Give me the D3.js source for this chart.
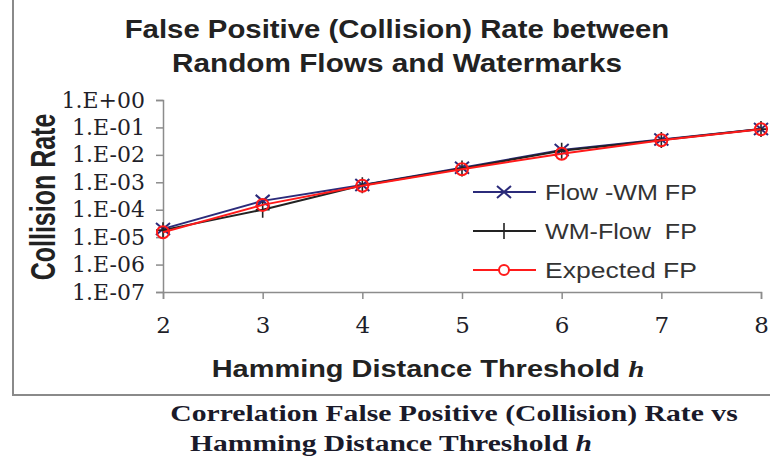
<!DOCTYPE html>
<html>
<head>
<meta charset="utf-8">
<script src="https://cdn.jsdelivr.net/npm/d3@7"></script>
<style>
  body { margin: 0; background: #fff; }
  svg { display: block; }
</style>
</head>
<body>
<div id="chart"></div>
<script>
// Data
const thresholds = [2, 3, 4, 5, 6, 7, 8];
const flowWmFp   = [2.0e-5, 2.1e-4, 8.0e-4, 3.4e-3, 1.5e-2, 3.6e-2, 8.7e-2];
const wmFlowFp   = [1.8e-5, 1.0e-4, 7.8e-4, 3.2e-3, 1.4e-2, 3.5e-2, 8.7e-2];
const expectedFp = [1.5e-5, 1.5e-4, 7.5e-4, 3.0e-3, 1.1e-2, 3.4e-2, 8.6e-2];
const yTicks = [1e0, 1e-1, 1e-2, 1e-3, 1e-4, 1e-5, 1e-6, 1e-7];
const seriesNames = ['Flow -WM FP', 'WM-Flow  FP', 'Expected FP'];

const W = 770, H = 459;
const plot = { left: 163, right: 761, top: 100, bottom: 292 };

const svg = d3.select('#chart').append('svg')
  .attr('width', W).attr('height', H);

// the source image is stretched sideways, so widen text to the measured width
// (scaled about its centre, or its left edge when start-anchored)
function stretchTo(sel, width, fromLeft) {
  const box = sel.node().getBBox();
  const k = width / box.width;
  const ox = fromLeft ? box.x : box.x + box.width / 2;
  sel.attr('transform', `translate(${ox},0) scale(${k},1) translate(${-ox},0)`);
  return sel;
}

// frame around the chart area
svg.append('path')
  .attr('d', `M13,0 V395 H770`)
  .attr('fill', 'none').attr('stroke', '#8a8a8a').attr('stroke-width', 2);

const x = d3.scaleLinear().domain([2, 8]).range([plot.left, plot.right]);
const y = d3.scaleLog().domain([1e-7, 1]).range([plot.bottom, plot.top]);

const axisColor = '#8c8c8c';
const fmt = v => {
  const e = Math.round(Math.log10(v));
  return '1.E' + (e < 0 ? '-' : '+') + String(Math.abs(e)).padStart(2, '0');
};

// y axis
const gy = svg.append('g').attr('transform', `translate(${plot.left},0)`)
  .call(d3.axisLeft(y).tickValues(yTicks).tickFormat(fmt).tickSize(7).tickPadding(11));
gy.select('.domain').attr('stroke', axisColor).attr('stroke-width', 1.5);
gy.selectAll('line').attr('stroke', axisColor).attr('stroke-width', 1.5);
gy.selectAll('text')
  .attr('fill', '#1f1f2a')
  .style('font-family', '"DejaVu Serif", serif')
  .style('font-size', '22px');

// x axis
const gx = svg.append('g').attr('transform', `translate(0,${plot.bottom})`)
  .call(d3.axisBottom(x).tickValues(thresholds).tickFormat(d3.format('d')).tickSize(7).tickPadding(18));
gx.select('.domain').attr('stroke', axisColor).attr('stroke-width', 1.5);
gx.selectAll('line').attr('stroke', axisColor).attr('stroke-width', 1.5);
gx.selectAll('text')
  .attr('fill', '#1f1f2a')
  .style('font-family', '"DejaVu Serif", serif')
  .style('font-size', '23px');

// series
const series = [
  { name: seriesNames[0], values: flowWmFp, color: '#2b2b7a', marker: 'x' },
  { name: seriesNames[1], values: wmFlowFp, color: '#222222', marker: 'plus' },
  { name: seriesNames[2], values: expectedFp, color: '#ff1a1a', marker: 'circle' }
];

const line = d3.line().x((d, i) => x(thresholds[i])).y(d => y(d));

function drawMarker(g, type, cx, cy, color) {
  if (type === 'x') {
    g.append('path')
      .attr('d', `M${cx - 7},${cy - 6}L${cx + 7},${cy + 6}M${cx - 7},${cy + 6}L${cx + 7},${cy - 6}`)
      .attr('stroke', color).attr('stroke-width', 2).attr('fill', 'none');
  } else if (type === 'plus') {
    g.append('path')
      .attr('d', `M${cx - 7},${cy}H${cx + 7}M${cx},${cy - 8}V${cy + 8}`)
      .attr('stroke', color).attr('stroke-width', 1.6).attr('fill', 'none');
  } else {
    g.append('circle').attr('cx', cx).attr('cy', cy).attr('r', 6)
      .attr('stroke', color).attr('stroke-width', 2).attr('fill', 'none');
  }
}

series.forEach(s => {
  svg.append('path').datum(s.values)
    .attr('d', line)
    .attr('fill', 'none').attr('stroke', s.color).attr('stroke-width', 2);
  const g = svg.append('g');
  s.values.forEach((v, i) => drawMarker(g, s.marker, x(thresholds[i]), y(v), s.color));
});

// legend
const legend = svg.append('g');
series.forEach((s, i) => {
  const ly = 192 + i * 39;
  legend.append('line').attr('x1', 473).attr('x2', 536).attr('y1', ly).attr('y2', ly)
    .attr('stroke', s.color).attr('stroke-width', 2);
  if (s.marker === 'circle') {
    legend.append('circle').attr('cx', 504).attr('cy', ly).attr('r', 5)
      .attr('stroke', s.color).attr('stroke-width', 2).attr('fill', '#fff');
  } else {
    drawMarker(legend, s.marker, 504, ly, s.color);
  }
  const t = legend.append('text').attr('x', 545).attr('y', ly).attr('dy', '0.36em')
    .attr('fill', '#333')
    .style('font-family', '"Liberation Sans", Arial, sans-serif')
    .style('font-size', '22px')
    .style('white-space', 'pre')
    .text(s.name);
  stretchTo(t, 152, true);
});

// titles
const sansBold = '"Liberation Sans", Arial, sans-serif';
const t1 = svg.append('text').attr('x', 397).attr('y', 38).attr('text-anchor', 'middle')
  .style('font-family', sansBold).style('font-weight', 'bold').style('font-size', '25px')
  .attr('fill', '#222').text('False Positive (Collision) Rate between');
stretchTo(t1, 545);
const t2 = svg.append('text').attr('x', 397).attr('y', 72).attr('text-anchor', 'middle')
  .style('font-family', sansBold).style('font-weight', 'bold').style('font-size', '25px')
  .attr('fill', '#222').text('Random Flows and Watermarks');
stretchTo(t2, 450);

// rotated title: the sideways stretch widens its glyphs, not its length
svg.append('g')
  .attr('transform', 'translate(55,197) scale(1.4,1) rotate(-90)')
  .append('text')
  .attr('text-anchor', 'middle')
  .style('font-family', sansBold).style('font-weight', 'bold').style('font-size', '25px')
  .attr('fill', '#222').text('Collision Rate');

const xt = svg.append('text').attr('x', 428).attr('y', 377).attr('text-anchor', 'middle')
  .style('font-family', sansBold).style('font-weight', 'bold').style('font-size', '24px')
  .attr('fill', '#222');
xt.append('tspan').text('Hamming Distance Threshold ');
xt.append('tspan').style('font-family', '"Liberation Serif", serif').style('font-style', 'italic')
  .text('h');
stretchTo(xt, 433);

// caption below the frame
const serifBold = '"Liberation Serif", "Times New Roman", serif';
const c1 = svg.append('text').attr('x', 454).attr('y', 421).attr('text-anchor', 'middle')
  .style('font-family', serifBold).style('font-weight', 'bold').style('font-size', '23px')
  .attr('fill', '#1a1a2a').text('Correlation False Positive (Collision) Rate vs');
stretchTo(c1, 568);
const c2 = svg.append('text').attr('x', 391).attr('y', 451).attr('text-anchor', 'middle')
  .style('font-family', serifBold).style('font-weight', 'bold').style('font-size', '23px')
  .attr('fill', '#1a1a2a');
c2.append('tspan').text('Hamming Distance Threshold ');
c2.append('tspan').style('font-style', 'italic').text('h');
stretchTo(c2, 402);
</script>
</body>
</html>
